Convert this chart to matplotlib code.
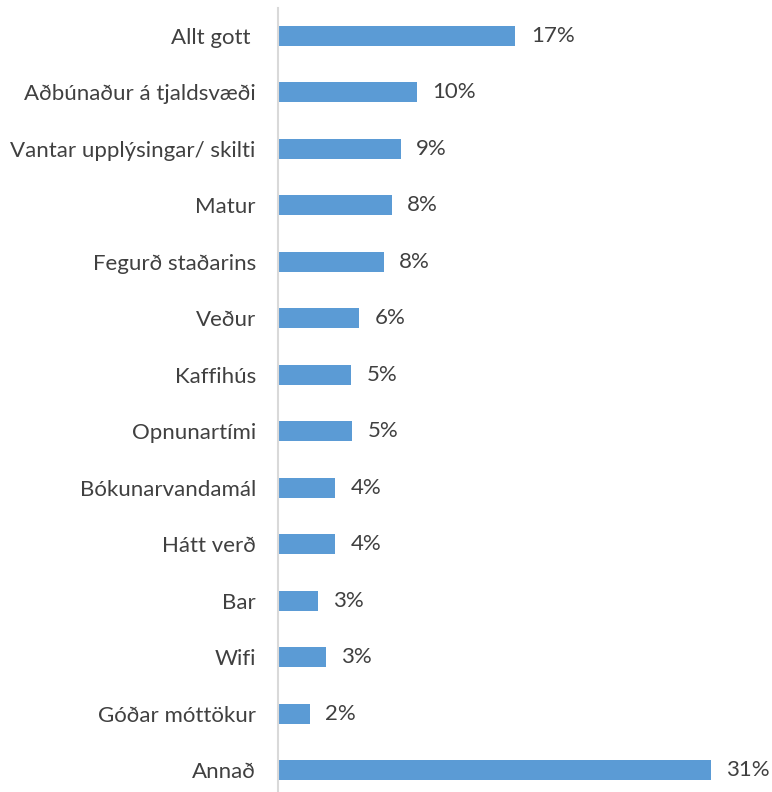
"""Horizontal bar chart of visitor comments (share of responses)."""

import matplotlib

matplotlib.use("Agg")
import matplotlib.pyplot as plt

categories = [
    "Allt gott ",
    "Aðbúnaður á tjaldsvæði",
    "Vantar upplýsingar/ skilti",
    "Matur",
    "Fegurð staðarins",
    "Veður",
    "Kaffihús",
    "Opnunartími",
    "Bókunarvandamál",
    "Hátt verð",
    "Bar",
    "Wifi",
    "Góðar móttökur",
    "Annað",
]
shares = [17.0, 9.95, 8.8, 8.16, 7.59, 5.8, 5.23, 5.3, 4.08, 4.08, 2.86, 3.45, 2.29, 31.0]

BAR_COLOR = "#5B9BD5"
TEXT_COLOR = "#404040"

plt.rcParams["font.family"] = ["Lato", "DejaVu Sans"]

W, H = 772, 792
fig = plt.figure(figsize=(W / 100, H / 100), dpi=100)

# axes in pixel terms: left edge at the axis line, top just above first bar
left_px, top_px = 278, 8
ax = fig.add_axes([left_px / W, 0, (W - left_px) / W, 1 - top_px / H])

y = list(range(len(categories)))
ax.barh(y, shares, height=0.355, color=BAR_COLOR)

for yi, v in zip(y, shares):
    ax.annotate(f"{round(v)}%", (v, yi), xytext=(11, 0), textcoords="offset points",
                va="center", ha="left", fontsize=16, color=TEXT_COLOR)

step = 56.46
ax.set_ylim(len(categories) - 1 + 22 / step, -(36 - top_px) / step)
ax.set_xlim(0, (W - left_px) / 13.97)

ax.set_yticks(y)
ax.set_yticklabels(categories, fontsize=16, color=TEXT_COLOR)
ax.tick_params(axis="y", length=0, pad=16)
ax.set_xticks([])

for side in ("top", "right", "bottom"):
    ax.spines[side].set_visible(False)
ax.spines["left"].set_color("#D9D9D9")
ax.spines["left"].set_linewidth(1.5)

fig.savefig("out.png", dpi=100)
plt.close(fig)
